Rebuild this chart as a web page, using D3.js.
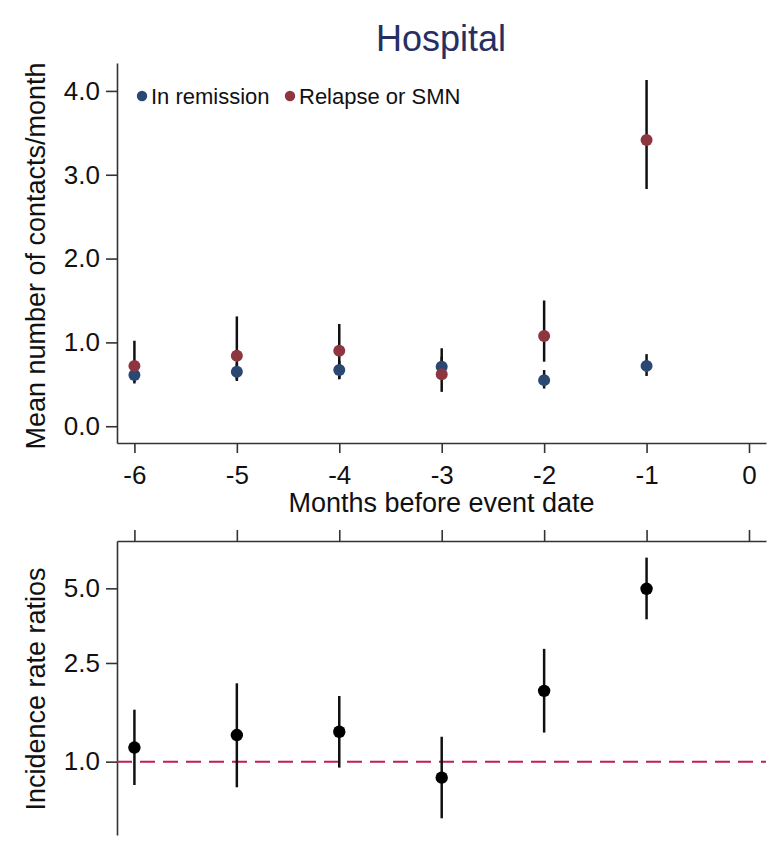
<!DOCTYPE html>
<html>
<head>
<meta charset="utf-8">
<script src="https://cdn.jsdelivr.net/npm/d3@7"></script>
<style>
  html, body { margin: 0; padding: 0; background: #ffffff; }
  svg { display: block; font-family: Arial, "Liberation Sans", Helvetica, sans-serif; }
</style>
</head>
<body>
<svg id="chart" width="784" height="852"></svg>
<script>
// ---- data ----
const months = [-6, -5, -4, -3, -2, -1];
const xTicks = [-6, -5, -4, -3, -2, -1, 0];
const xTickLabels = ["-6", "-5", "-4", "-3", "-2", "-1", "0"];

const remission   = [0.61, 0.65, 0.67, 0.71, 0.55, 0.72];
const remissionLo = [0.53, 0.56, 0.57, 0.60, 0.45, 0.60];
const remissionHi = [0.70, 0.75, 0.78, 0.83, 0.67, 0.86];

const relapse   = [0.72, 0.84, 0.90, 0.62, 1.075, 3.415];
const relapseLo = [0.51, 0.54, 0.56, 0.41, 0.77, 2.83];
const relapseHi = [1.02, 1.31, 1.22, 0.93, 1.50, 4.13];

const irr   = [1.14, 1.28, 1.32, 0.862, 1.93, 4.98];
const irrLo = [0.805, 0.788, 0.946, 0.591, 1.31, 3.75];
const irrHi = [1.62, 2.07, 1.84, 1.26, 2.85, 6.65];

const topYTicks = [0, 1, 2, 3, 4];
const botYTicks = [1, 2.5, 5];

const seriesNames = ["In remission", "Relapse or SMN"];
const seriesColors = ["#2b4873", "#8e3640"];

// ---- layout ----
const svg = d3.select("#chart");
const left = 117, right = 766;
const topY0 = 63, topY1 = 443;
const botY0 = 541, botY1 = 835;
const axisColor = "#333333";
const tickFont = 26, titleFont = 27;

const x = d3.scaleLinear().domain([-6.17, 0.166]).range([left, right]);
const yTop = d3.scaleLinear().domain([-0.2, 4.333]).range([topY1, topY0]);
const yBot = d3.scaleLog().domain([0.506, 7.76]).range([botY1, botY0]);

// Title
svg.append("text")
  .attr("x", 441).attr("y", 51)
  .attr("text-anchor", "middle")
  .attr("font-size", 36)
  .attr("fill", "#272f62")
  .text("Hospital");

function styleAxis(g) {
  g.selectAll(".domain").attr("stroke", axisColor).attr("stroke-width", 1.6);
  g.selectAll(".tick line").attr("stroke", axisColor).attr("stroke-width", 1.6);
  g.selectAll(".tick text").attr("fill", "#111").attr("font-size", tickFont)
    .attr("font-family", "Arial, 'Liberation Sans', sans-serif");
}

// ---- Top panel ----
const gTopY = svg.append("g").attr("transform", `translate(${left},0)`)
  .call(d3.axisLeft(yTop).tickValues(topYTicks).tickFormat(d3.format(".1f"))
    .tickSize(11).tickPadding(6).tickSizeOuter(0));
styleAxis(gTopY);

const gTopX = svg.append("g").attr("transform", `translate(0,${topY1})`)
  .call(d3.axisBottom(x).tickValues(xTicks).tickFormat((d, i) => xTickLabels[i])
    .tickSize(10).tickSizeOuter(0));
styleAxis(gTopX);
gTopX.selectAll(".tick text").attr("y", 41).attr("dy", 0);

svg.append("text")
  .attr("transform", `translate(45,${(topY0 + topY1) / 2 + 3}) rotate(-90)`)
  .attr("text-anchor", "middle").attr("font-size", titleFont).attr("fill", "#111")
  .text("Mean number of contacts/month");

svg.append("text")
  .attr("x", (left + right) / 2).attr("y", 512)
  .attr("text-anchor", "middle").attr("font-size", titleFont).attr("fill", "#111")
  .text("Months before event date");

// error bars and points for both series
const topSeries = [
  { est: remission, lo: remissionLo, hi: remissionHi, color: seriesColors[0] },
  { est: relapse, lo: relapseLo, hi: relapseHi, color: seriesColors[1] }
];
topSeries.forEach(s => {
  svg.append("g").selectAll("line").data(months).join("line")
    .attr("x1", d => x(d)).attr("x2", d => x(d))
    .attr("y1", (d, i) => yTop(s.lo[i])).attr("y2", (d, i) => yTop(s.hi[i]))
    .attr("stroke", "#111").attr("stroke-width", 2.5);
});
topSeries.forEach(s => {
  svg.append("g").selectAll("circle").data(months).join("circle")
    .attr("cx", d => x(d)).attr("cy", (d, i) => yTop(s.est[i]))
    .attr("r", 6).attr("fill", s.color);
});

// legend
const legendItems = [
  { name: seriesNames[0], color: seriesColors[0], dx: 142 },
  { name: seriesNames[1], color: seriesColors[1], dx: 290 }
];
legendItems.forEach(l => {
  svg.append("circle").attr("cx", l.dx).attr("cy", 96).attr("r", 5.2).attr("fill", l.color);
  svg.append("text").attr("x", l.dx + 9).attr("y", 103.5)
    .attr("font-size", 22).attr("fill", "#111").text(l.name);
});

// ---- Bottom panel ----
const gBotY = svg.append("g").attr("transform", `translate(${left},0)`)
  .call(d3.axisLeft(yBot).tickValues(botYTicks).tickFormat(d3.format(".1f"))
    .tickSize(11).tickPadding(6).tickSizeOuter(0));
styleAxis(gBotY);

const gBotX = svg.append("g").attr("transform", `translate(0,${botY0})`)
  .call(d3.axisTop(x).tickValues(xTicks).tickFormat("")
    .tickSize(11).tickSizeOuter(0));
styleAxis(gBotX);

svg.append("text")
  .attr("transform", `translate(45,${(botY0 + botY1) / 2 + 1}) rotate(-90)`)
  .attr("text-anchor", "middle").attr("font-size", titleFont).attr("fill", "#111")
  .text("Incidence rate ratios");

// reference line
svg.append("line")
  .attr("x1", left).attr("x2", right)
  .attr("y1", yBot(1)).attr("y2", yBot(1))
  .attr("stroke", "#c41d50").attr("stroke-width", 2)
  .attr("stroke-dasharray", "15,8");

svg.append("g").selectAll("line").data(months).join("line")
  .attr("x1", d => x(d)).attr("x2", d => x(d))
  .attr("y1", (d, i) => yBot(irrLo[i])).attr("y2", (d, i) => yBot(irrHi[i]))
  .attr("stroke", "#111").attr("stroke-width", 2.5);

svg.append("g").selectAll("circle").data(months).join("circle")
  .attr("cx", d => x(d)).attr("cy", (d, i) => yBot(irr[i]))
  .attr("r", 6.2).attr("fill", "#000");
</script>
</body>
</html>
